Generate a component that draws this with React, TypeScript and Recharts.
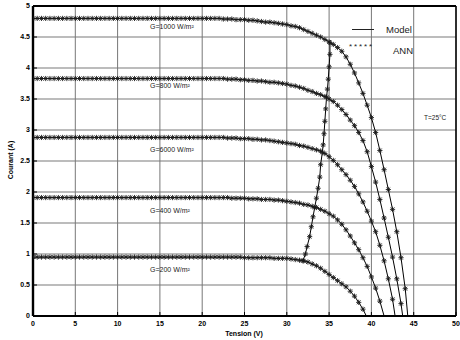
import React from "react";
import { LineChart, Line, XAxis, YAxis, CartesianGrid } from "recharts";

// voltage grid shared by every I-V curve (V)
const tension = [
  0, 0.5, 1, 1.5, 2, 2.5, 3, 3.5, 4, 4.5, 5, 5.5, 6, 6.5, 7, 7.5, 8, 8.5, 9, 9.5,
  10, 10.5, 11, 11.5, 12, 12.5, 13, 13.5, 14, 14.5, 15, 15.5, 16, 16.5, 17, 17.5,
  18, 18.5, 19, 19.5, 20, 20.5, 21, 21.5, 22, 22.5, 23, 23.5, 24, 24.5, 25, 25.5,
  26, 26.5, 27, 27.5, 28, 28.5, 29, 29.5, 30, 30.5, 31, 31.5, 32, 32.5, 33, 33.5,
  34, 34.5, 35, 35.5, 36, 36.5, 37, 37.5, 38, 38.5, 39, 39.5, 40, 40.5, 41, 41.5,
  42, 42.5, 43, 43.5, 44,
];

// current (A) at each grid voltage, one list per irradiance
const courant1000 = [
  4.8, 4.8, 4.8, 4.8, 4.8, 4.8, 4.8, 4.8, 4.8, 4.8, 4.8, 4.8, 4.8, 4.8, 4.8,
  4.8, 4.8, 4.8, 4.8, 4.8, 4.8, 4.8, 4.8, 4.8, 4.8, 4.8, 4.8, 4.8, 4.8, 4.8,
  4.8, 4.8, 4.8, 4.8, 4.8, 4.8, 4.8, 4.8, 4.8, 4.8, 4.8, 4.8, 4.8, 4.8, 4.8,
  4.79, 4.79, 4.79, 4.78, 4.78, 4.78, 4.77, 4.77, 4.76, 4.75, 4.74, 4.74, 4.73,
  4.72, 4.71, 4.7, 4.68, 4.67, 4.65, 4.62, 4.59, 4.56, 4.53, 4.5, 4.46, 4.42,
  4.38, 4.33, 4.27, 4.18, 4.06, 3.92, 3.76, 3.59, 3.4, 3.2, 2.96, 2.67, 2.36,
  2.04, 1.72, 1.36, 0.94, 0.44,
];
const courant800 = [
  3.83, 3.83, 3.83, 3.83, 3.83, 3.83, 3.83, 3.83, 3.83, 3.83, 3.83, 3.83, 3.83,
  3.83, 3.83, 3.83, 3.83, 3.83, 3.83, 3.83, 3.83, 3.83, 3.83, 3.83, 3.83, 3.83,
  3.83, 3.83, 3.83, 3.83, 3.83, 3.83, 3.83, 3.83, 3.83, 3.83, 3.83, 3.83, 3.83,
  3.83, 3.83, 3.83, 3.83, 3.83, 3.83,
  3.83, 3.82, 3.82, 3.82, 3.81, 3.81, 3.8, 3.8, 3.79, 3.79, 3.78, 3.77, 3.77,
  3.76, 3.75, 3.74, 3.72, 3.71, 3.69, 3.67, 3.64, 3.62, 3.59, 3.57, 3.54, 3.5,
  3.46, 3.4, 3.33, 3.25, 3.16, 3.07, 2.96, 2.83, 2.65, 2.41, 2.16, 1.88, 1.58,
  1.27, 0.95, 0.6, 0.2,
];
const courant600 = [
  2.88, 2.88, 2.88, 2.88, 2.88, 2.88, 2.88, 2.88, 2.88, 2.88, 2.88, 2.88, 2.88,
  2.88, 2.88, 2.88, 2.88, 2.88, 2.88, 2.88, 2.88, 2.88, 2.88, 2.88, 2.88, 2.88,
  2.88, 2.88, 2.88, 2.88, 2.88, 2.88, 2.88, 2.88, 2.88, 2.88, 2.88, 2.88, 2.88,
  2.88, 2.88, 2.88, 2.88, 2.88, 2.88,
  2.88, 2.87, 2.87, 2.87, 2.86, 2.86, 2.86, 2.85, 2.85, 2.84, 2.84, 2.83, 2.82,
  2.81, 2.8, 2.79, 2.78, 2.77, 2.75, 2.74, 2.72, 2.7, 2.68, 2.66, 2.62, 2.57,
  2.51, 2.44, 2.36, 2.28, 2.19, 2.09, 1.97, 1.84, 1.69, 1.53, 1.36, 1.14, 0.89,
  0.6, 0.27,
];
const courant400 = [
  1.91, 1.91, 1.91, 1.91, 1.91, 1.91, 1.91, 1.91, 1.91, 1.91, 1.91, 1.91, 1.91,
  1.91, 1.91, 1.91, 1.91, 1.91, 1.91, 1.91, 1.91, 1.91, 1.91, 1.91, 1.91, 1.91,
  1.91, 1.91, 1.91, 1.91, 1.91, 1.91, 1.91, 1.91, 1.91, 1.91, 1.91, 1.91, 1.91,
  1.91, 1.91, 1.91, 1.91, 1.91, 1.91,
  1.91, 1.91, 1.9, 1.9, 1.9, 1.9, 1.89, 1.89, 1.89, 1.88, 1.88, 1.88, 1.87,
  1.87, 1.86, 1.85, 1.84, 1.83, 1.82, 1.8, 1.79, 1.77, 1.75, 1.72, 1.69, 1.65,
  1.61, 1.55, 1.48, 1.39, 1.29, 1.18, 1.07, 0.94, 0.8, 0.63, 0.45, 0.24,
];
const courant200 = [
  0.95, 0.95, 0.95, 0.95, 0.95, 0.95, 0.95, 0.95, 0.95, 0.95, 0.95, 0.95, 0.95,
  0.95, 0.95, 0.95, 0.95, 0.95, 0.95, 0.95, 0.95, 0.95, 0.95, 0.95, 0.95, 0.95,
  0.95, 0.95, 0.95, 0.95, 0.95, 0.95, 0.95, 0.95, 0.95, 0.95, 0.95, 0.95, 0.95,
  0.95, 0.95, 0.95, 0.95, 0.95, 0.95,
  0.95, 0.95, 0.95, 0.95, 0.95, 0.94, 0.94, 0.94, 0.94, 0.94, 0.94, 0.94, 0.93,
  0.93, 0.93, 0.93, 0.92, 0.91, 0.9, 0.89, 0.87, 0.84, 0.81, 0.77, 0.72, 0.67,
  0.62, 0.57, 0.52, 0.47, 0.4, 0.32, 0.22, 0.11,
];

// open-circuit voltage closing each curve (V)
const vocs = [44.3, 43.7, 42.8, 41.5, 39.4];
const irradiance = ["G=1000 W/m²", "G=800 W/m²", "G=6000 W/m²", "G=400 W/m²", "G=200 W/m²"];
const startColors = ["#8a3fa0", "#2a9a9a", "#c03030", "#2e8b57", "#2050c0"];

// maximum power point track
const mppTension = [35.1, 35.1, 35.0, 34.9, 34.8, 34.7, 34.6, 34.5, 34.4, 34.3, 34.2, 34.0, 33.9, 33.7, 33.5, 33.3, 33.1, 32.9, 32.7, 32.4, 32.2, 31.9];
const mppCourant = [4.41, 4.22, 4.02, 3.82, 3.66, 3.53, 3.34, 3.14, 2.94, 2.76, 2.64, 2.44, 2.24, 2.06, 1.9, 1.75, 1.6, 1.44, 1.28, 1.12, 1.0, 0.89];

const xTicks = [0, 5, 10, 15, 20, 25, 30, 35, 40, 45, 50];
const yTicks = [0, 0.5, 1, 1.5, 2, 2.5, 3, 3.5, 4, 4.5, 5];

const curves = [courant1000, courant800, courant600, courant400, courant200].map((c, k) => [
  ...c.map((i, n) => ({ v: tension[n], i })),
  { v: vocs[k], i: 0 },
]);
const mppData = mppTension.map((v, n) => ({ v, i: mppCourant[n] }));

const font = "'Liberation Sans', Arial, sans-serif";

const asterisk = (color?: string) => (props: any) => {
  const { cx, cy, index, payload } = props;
  if (cx == null || cy == null || payload?.i === 0) return <g key={`e${index}`} />;
  const r = 2.6;
  const d = 1.9;
  return (
    <g key={`s${index}`} stroke="#1a1a1a" strokeWidth={0.9}>
      <line x1={cx - r} y1={cy} x2={cx + r} y2={cy} />
      <line x1={cx} y1={cy - r} x2={cx} y2={cy + r} />
      <line x1={cx - d} y1={cy - d} x2={cx + d} y2={cy + d} />
      <line x1={cx - d} y1={cy + d} x2={cx + d} y2={cy - d} />
      {index === 0 && color ? <rect x={cx - 3} y={cy - 1} width={2} height={2} fill={color} stroke="none" /> : null}
    </g>
  );
};

const tickStyle = { fontSize: 7, fontWeight: 700, fill: "#000", fontFamily: font };

export default function App() {
  return (
    <div style={{ position: "absolute", left: 0, top: 0, width: 460, height: 340, background: "#fff" }}>
      <LineChart width={460} height={340} margin={{ top: 0, right: 0, bottom: 0, left: 0 }}>
        <CartesianGrid vertical={false} stroke="#a6a6a6" strokeWidth={1.5} />
        <CartesianGrid horizontal={false} stroke="#777" strokeWidth={1} />
        <XAxis
          dataKey="v"
          type="number"
          domain={[0, 50]}
          ticks={xTicks}
          interval={0}
          height={24}
          tickSize={-4}
          tickMargin={9}
          tick={tickStyle}
          axisLine={{ stroke: "#000", strokeWidth: 2 }}
          tickLine={{ stroke: "#000" }}
          allowDataOverflow
        />
        <XAxis
          xAxisId="top"
          orientation="top"
          dataKey="v"
          type="number"
          domain={[0, 50]}
          ticks={xTicks}
          interval={0}
          height={6}
          tickSize={-4}
          tick={false}
          axisLine={{ stroke: "#000", strokeWidth: 2 }}
          tickLine={{ stroke: "#000" }}
          allowDataOverflow
        />
        <YAxis
          type="number"
          domain={[0, 5]}
          ticks={yTicks}
          interval={0}
          width={33}
          tickSize={-4}
          tickMargin={7}
          tick={tickStyle}
          axisLine={{ stroke: "#000", strokeWidth: 2.4 }}
          tickLine={{ stroke: "#000" }}
          allowDataOverflow
        />
        <YAxis
          yAxisId="right"
          orientation="right"
          type="number"
          domain={[0, 5]}
          ticks={yTicks}
          interval={0}
          width={4}
          tickSize={-4}
          tick={false}
          axisLine={{ stroke: "#000", strokeWidth: 1.5 }}
          tickLine={{ stroke: "#000" }}
          allowDataOverflow
        />
        {curves.map((d, k) => (
          <Line
            key={irradiance[k]}
            data={d}
            dataKey="i"
            type="linear"
            stroke="#000"
            strokeWidth={1}
            dot={asterisk(startColors[k])}
            activeDot={false}
            isAnimationActive={false}
          />
        ))}
        <Line
          data={mppData}
          dataKey="i"
          type="linear"
          stroke="#000"
          strokeWidth={1}
          dot={asterisk()}
          activeDot={false}
          isAnimationActive={false}
        />
      </LineChart>
      <svg
        width={460}
        height={340}
        style={{ position: "absolute", left: 0, top: 0, pointerEvents: "none" }}
        fontFamily={font}
      >
        <text x={10} y={160} transform="rotate(-90 10 160)" textAnchor="middle" fontSize={7} fontWeight={700} dominantBaseline="central">
          Courant (A)
        </text>
        <text x={244} y={336} textAnchor="middle" fontSize={7} fontWeight={700}>
          Tension (V)
        </text>
        {[29, 87.5, 152, 213, 272].map((y, k) => (
          <text key={irradiance[k]} x={150} y={y} fontSize={7} fill="#222">
            {irradiance[k]}
          </text>
        ))}
        <line x1={352} y1={29.5} x2={374} y2={29.5} stroke="#222" strokeWidth={1} />
        <text x={386} y={33} fontSize={9.5} fill="#222">Model</text>
        <text x={349} y={49} fontSize={8} letterSpacing={1.9} fill="#222">*****</text>
        <text x={393} y={54} fontSize={9.5} fill="#222">ANN</text>
        <text x={424} y={120} fontSize={6.5} fill="#222">T=25°C</text>
      </svg>
    </div>
  );
}
